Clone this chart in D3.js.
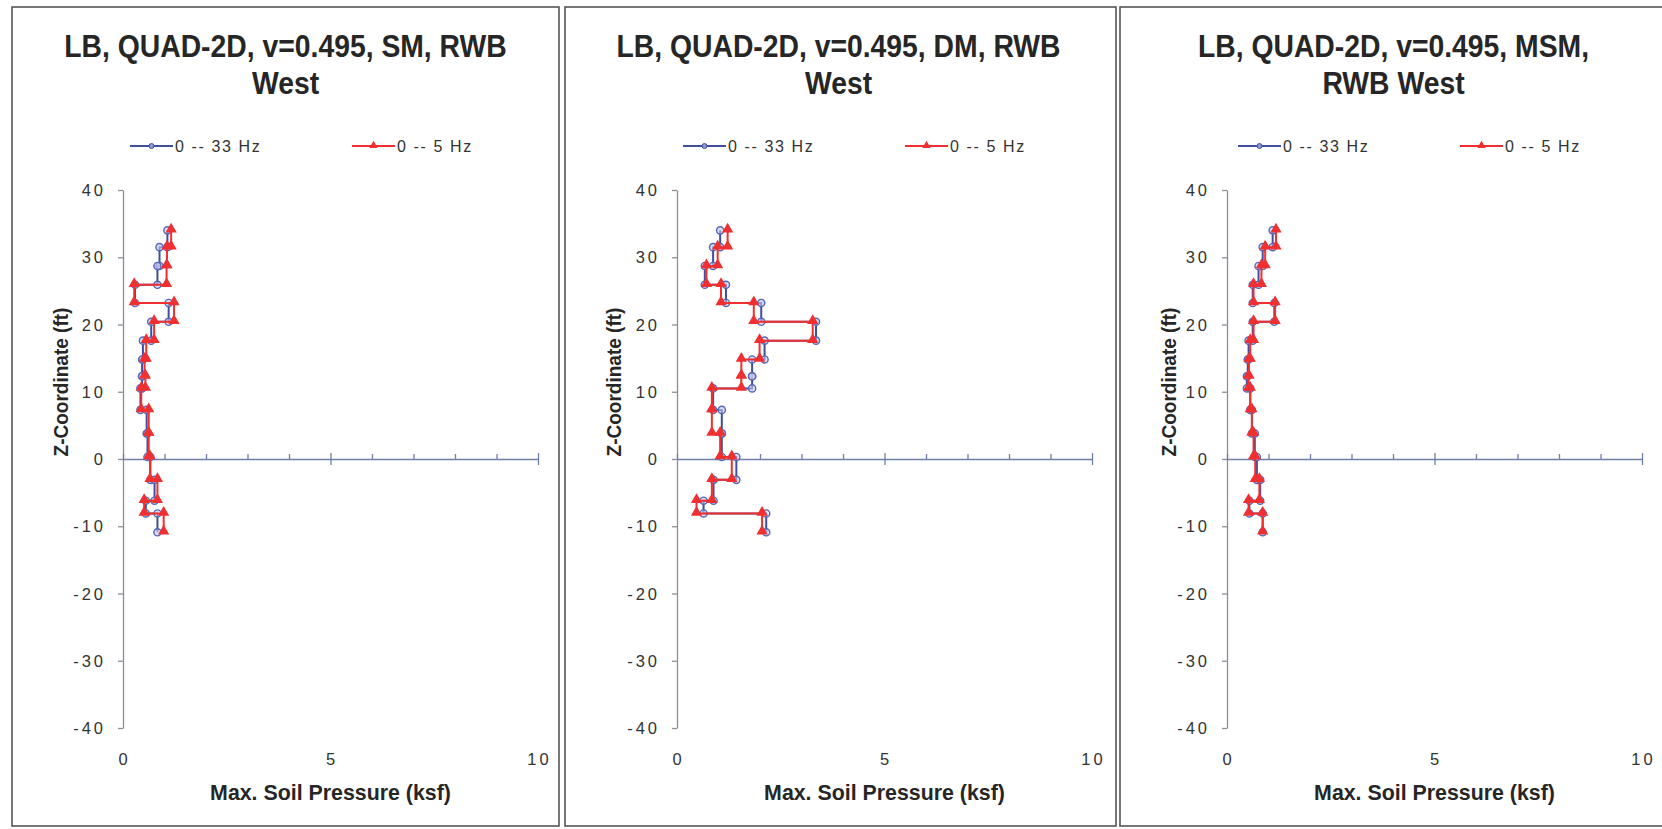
<!DOCTYPE html>
<html>
<head>
<meta charset="utf-8">
<script src="https://cdn.jsdelivr.net/npm/d3@7"></script>
<style>
  body { margin: 0; background: #fff; }
  svg { display: block; }
  .ttl { font-family: "Liberation Sans", sans-serif; font-weight: bold; fill: #262626; }
  .num { font-family: "Liberation Sans", sans-serif; fill: #333; font-size: 16.5px; letter-spacing: 3px; }
  .leg { font-family: "Liberation Sans", sans-serif; fill: #333; font-size: 16px; letter-spacing: 1.6px; }
</style>
</head>
<body>
<svg width="1662" height="829"></svg>
<script>
// element boundaries along the wall (ft), shared by all three charts
var zNodes = [34.0, 31.5, 28.7, 25.9, 23.2, 20.4, 17.6, 14.8, 12.3, 10.5, 7.3, 3.8, 0.3, -3.1, -6.2, -8.1, -10.9];

var seriesNames = ["0 -- 33 Hz", "0 -- 5 Hz"];
var xTickLabels = [0, 5, 10];
var yTickLabels = [-40, -30, -20, -10, 0, 10, 20, 30, 40];
var xTitle = "Max. Soil Pressure (ksf)";
var yTitle = "Z-Coordinate (ft)";

var titleSM = ["LB, QUAD-2D, v=0.495, SM, RWB", "West"];
var titleDM = ["LB, QUAD-2D, v=0.495, DM, RWB", "West"];
var titleMSM = ["LB, QUAD-2D, v=0.495, MSM,", "RWB West"];

// max soil pressure per element (ksf), top to bottom
var sm33 = [1.07, 0.88, 0.83, 0.29, 1.10, 0.68, 0.48, 0.46, 0.46, 0.42, 0.57, 0.59, 0.66, 0.76, 0.55, 0.83];
var sm5  = [1.16, 1.06, 1.05, 0.27, 1.23, 0.75, 0.56, 0.52, 0.54, 0.44, 0.62, 0.62, 0.65, 0.83, 0.51, 0.98];
var dm33 = [1.04, 0.87, 0.67, 1.18, 2.03, 3.35, 2.11, 1.81, 1.81, 0.87, 1.08, 1.08, 1.43, 0.88, 0.64, 2.15];
var dm5  = [1.22, 0.98, 0.71, 1.06, 1.85, 3.27, 1.99, 1.55, 1.55, 0.84, 0.84, 1.04, 1.32, 0.84, 0.47, 2.05];
var msm33 = [1.10, 0.86, 0.76, 0.62, 1.14, 0.62, 0.52, 0.50, 0.48, 0.56, 0.60, 0.67, 0.72, 0.80, 0.54, 0.86];
var msm5  = [1.18, 0.92, 0.83, 0.64, 1.16, 0.64, 0.56, 0.53, 0.52, 0.56, 0.60, 0.64, 0.68, 0.78, 0.52, 0.86];

var blue = "#3f4f9e", red = "#f03030";

var svg = d3.select("svg");

var panels = [
    {title: titleSM, s33: sm33, s5: sm5, left: 12, width: 547, x0: 123},
    {title: titleDM, s33: dm33, s5: dm5, left: 565, width: 551, x0: 677},
    {title: titleMSM, s33: msm33, s5: msm5, left: 1120, width: 560, x0: 1227}
];

// turn per-element values into a step profile: two points per element
function steps(vals) {
    var pts = [];
    vals.forEach(function (v, i) {
        pts.push({p: v, z: zNodes[i]});
        pts.push({p: v, z: zNodes[i + 1]});
    });
    return pts;
}

// squeeze bold text a bit, the original is a narrow face
function narrow(sel, f) {
    sel.each(function () {
        var w = this.getComputedTextLength();
        d3.select(this).attr("textLength", w * f).attr("lengthAdjust", "spacingAndGlyphs");
    });
}

panels.forEach(function (pn, k) {
    var g = svg.append("g");

    g.append("rect")
        .attr("x", pn.left).attr("y", 7)
        .attr("width", pn.width).attr("height", 819)
        .attr("fill", "none").attr("stroke", "#555").attr("stroke-width", 1.6);

    var x = d3.scaleLinear().domain([0, 10]).range([pn.x0, pn.x0 + 415]),
        y = d3.scaleLinear().domain([-40, 40]).range([728, 190]);

    // title
    var cx = pn.left + 273.5;
    g.selectAll(".t").data(pn.title).enter().append("text")
        .attr("class", "ttl")
        .attr("x", cx).attr("y", function (d, i) { return 57 + i * 37; })
        .attr("text-anchor", "middle")
        .style("font-size", "32px")
        .text(function (d) { return d; })
        .call(narrow, 0.885);

    // legend
    var ly = 146;
    [[pn.left + 118, blue, "c"], [pn.left + 340, red, "t"]].forEach(function (l, i) {
        g.append("line").attr("x1", l[0]).attr("x2", l[0] + 43)
            .attr("y1", ly).attr("y2", ly)
            .attr("stroke", l[1]).attr("stroke-width", 2);
        if (l[2] == "c") {
            g.append("circle").attr("cx", l[0] + 21.5).attr("cy", ly).attr("r", 2.5)
                .attr("fill", "#8c98d0").attr("stroke", blue).attr("stroke-width", 1);
        } else {
            g.append("path").attr("d", d3.symbol(d3.symbolTriangle).size(30))
                .attr("transform", "translate(" + (l[0] + 21.5) + "," + (ly - 0.5) + ")")
                .attr("fill", red);
        }
        g.append("text").attr("class", "leg")
            .attr("x", l[0] + 45).attr("y", ly + 6)
            .text(seriesNames[i]);
    });

    // y axis
    var yAxis = d3.axisLeft(y).tickValues(yTickLabels).tickSize(5).tickSizeOuter(0).tickFormat("");
    var ya = g.append("g").attr("transform", "translate(" + pn.x0 + ",0)").call(yAxis);
    ya.selectAll("path, line").attr("stroke", "#8a8f99").attr("stroke-width", 1.3);
    g.selectAll(".yl").data(yTickLabels).enter().append("text")
        .attr("class", "num")
        .attr("x", pn.x0 - 17).attr("y", function (d) { return y(d) + 6; })
        .attr("text-anchor", "end")
        .text(function (d) { return d; });

    // x axis through z = 0, minor ticks every 1 ksf
    var xAxis = d3.axisTop(x).tickValues(d3.range(0, 11)).tickSize(5).tickSizeOuter(0).tickFormat("");
    var xa = g.append("g").attr("transform", "translate(0," + y(0) + ")").call(xAxis);
    xa.selectAll("path, line").attr("stroke", "#6f7fa8").attr("stroke-width", 1.3);
    xa.selectAll(".tick line").filter(function (d) { return d % 5 == 0 && d > 0; })
        .attr("y2", -6).attr("y1", 6);

    g.selectAll(".xl").data(xTickLabels).enter().append("text")
        .attr("class", "num")
        .attr("x", function (d) { return x(d) + 1.5; }).attr("y", 765)
        .attr("text-anchor", "middle")
        .text(function (d) { return d; });

    // axis titles
    g.append("text").attr("class", "ttl")
        .attr("x", x(5)).attr("y", 800)
        .attr("text-anchor", "middle").style("font-size", "22px")
        .text(xTitle)
        .call(narrow, 0.97);
    g.append("text").attr("class", "ttl")
        .attr("transform", "translate(" + (pn.left + 56) + ",382) rotate(-90)")
        .attr("text-anchor", "middle").style("font-size", "20px")
        .text(yTitle)
        .call(narrow, 0.95);

    // step profiles
    var line = d3.line()
        .x(function (d) { return x(d.p); })
        .y(function (d) { return y(d.z); });

    var d33 = steps(pn.s33), d5 = steps(pn.s5);

    g.append("path").datum(d33)
        .attr("d", line).attr("fill", "none")
        .attr("stroke", blue).attr("stroke-width", 2);
    g.selectAll(".c33").data(d33).enter().append("circle")
        .attr("cx", function (d) { return x(d.p); })
        .attr("cy", function (d) { return y(d.z); })
        .attr("r", 3.6)
        .attr("fill", "#c4cbee").attr("fill-opacity", 0.6)
        .attr("stroke", "#5566b8").attr("stroke-width", 1.4);

    g.append("path").datum(d5)
        .attr("d", line).attr("fill", "none")
        .attr("stroke", red).attr("stroke-width", 2);
    g.selectAll(".t5").data(d5).enter().append("path")
        .attr("d", d3.symbol(d3.symbolTriangle).size(55))
        .attr("transform", function (d) { return "translate(" + x(d.p) + "," + (y(d.z) - 1) + ")"; })
        .attr("fill", red);
});
</script>
</body>
</html>
